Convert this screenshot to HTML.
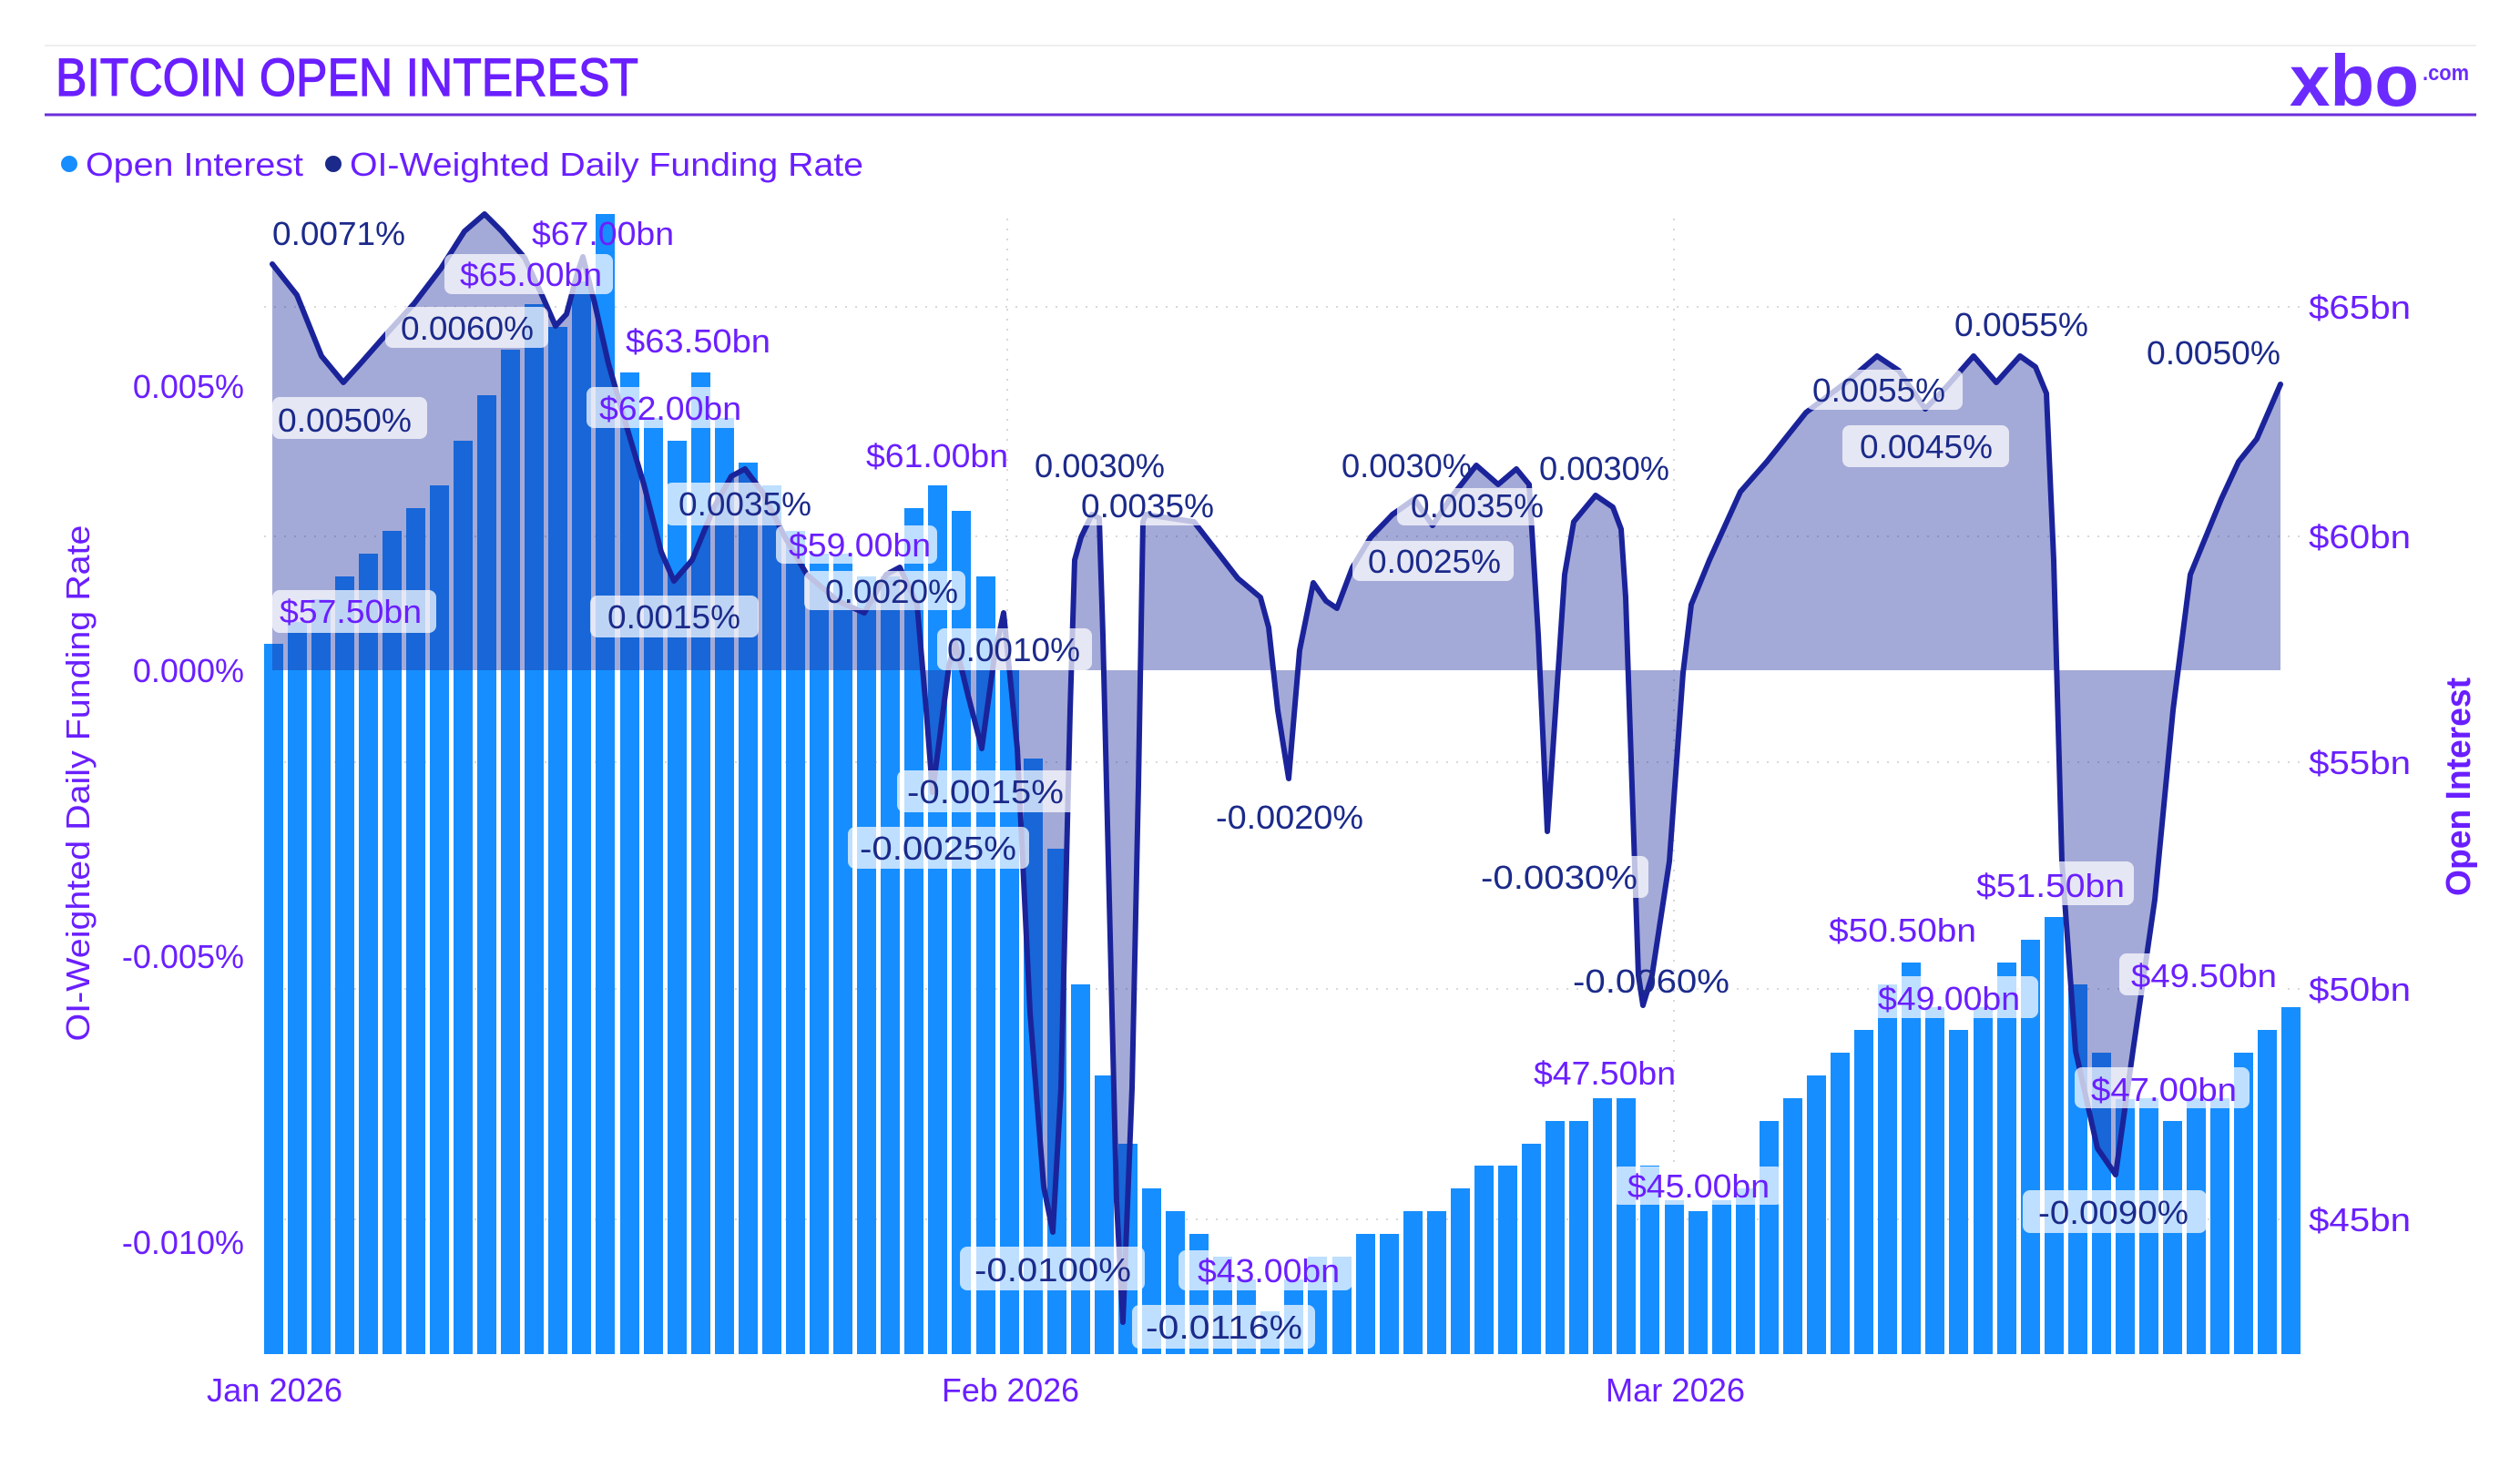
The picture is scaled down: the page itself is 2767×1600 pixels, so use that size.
<!DOCTYPE html>
<html><head><meta charset="utf-8"><style>
html,body{margin:0;padding:0;background:#fff;}
svg{display:block;}
text{font-family:"Liberation Sans","DejaVu Sans",sans-serif;}
</style></head><body>
<svg width="2767" height="1600" viewBox="0 0 2767 1600" xmlns="http://www.w3.org/2000/svg">
<rect x="0" y="0" width="2767" height="1600" fill="#fff"/>
<line x1="49" y1="50" x2="2719" y2="50" stroke="#eeeeee" stroke-width="2"/>
<line x1="49" y1="126" x2="2719" y2="126" stroke="#6a2fd8" stroke-width="3"/>
<text x="61" y="105" font-size="58" fill="#6a1fff" stroke="#6a1fff" stroke-width="1.2" textLength="640" lengthAdjust="spacingAndGlyphs">BITCOIN OPEN INTEREST</text>
<text x="2514" y="116" font-size="80" font-weight="bold" fill="#6b2bff" textLength="142" lengthAdjust="spacingAndGlyphs">xbo</text>
<text x="2660" y="88" font-size="24" font-weight="bold" fill="#6b2bff" textLength="51" lengthAdjust="spacingAndGlyphs">.com</text>
<!-- legend -->
<circle cx="76" cy="180" r="9" fill="#168eff"/>
<text x="94" y="193" font-size="36" fill="#6a1fff" textLength="239" lengthAdjust="spacingAndGlyphs">Open Interest</text>
<circle cx="366" cy="180" r="9" fill="#1b2a8a"/>
<text x="384" y="193" font-size="36" fill="#6a1fff" textLength="564" lengthAdjust="spacingAndGlyphs">OI-Weighted Daily Funding Rate</text>
<!-- gridlines -->
<g stroke="#d8d8d8" stroke-width="2" stroke-dasharray="2,9">
<line x1="290" y1="337" x2="2530" y2="337"/>
<line x1="290" y1="589" x2="2530" y2="589"/>
<line x1="290" y1="837" x2="2530" y2="837"/>
<line x1="290" y1="1086" x2="2530" y2="1086"/>
<line x1="290" y1="1339" x2="2530" y2="1339"/>
<line x1="1106" y1="240" x2="1106" y2="1490"/>
<line x1="1838" y1="240" x2="1838" y2="1490"/>
</g>
<!-- bars -->
<g fill="#168eff">
<rect x="290" y="707" width="21" height="780"/>
<rect x="316" y="683" width="21" height="804"/>
<rect x="342" y="658" width="21" height="829"/>
<rect x="368" y="633" width="21" height="854"/>
<rect x="394" y="608" width="21" height="879"/>
<rect x="420" y="583" width="21" height="904"/>
<rect x="446" y="558" width="21" height="929"/>
<rect x="472" y="533" width="21" height="954"/>
<rect x="498" y="484" width="21" height="1003"/>
<rect x="524" y="434" width="21" height="1053"/>
<rect x="550" y="384" width="21" height="1103"/>
<rect x="576" y="334" width="21" height="1153"/>
<rect x="602" y="359" width="21" height="1128"/>
<rect x="628" y="309" width="21" height="1178"/>
<rect x="654" y="235" width="21" height="1252"/>
<rect x="681" y="409" width="21" height="1078"/>
<rect x="707" y="459" width="21" height="1028"/>
<rect x="733" y="484" width="21" height="1003"/>
<rect x="759" y="409" width="21" height="1078"/>
<rect x="785" y="459" width="21" height="1028"/>
<rect x="811" y="508" width="21" height="979"/>
<rect x="837" y="533" width="21" height="954"/>
<rect x="863" y="583" width="21" height="904"/>
<rect x="889" y="608" width="21" height="879"/>
<rect x="915" y="608" width="21" height="879"/>
<rect x="941" y="633" width="21" height="854"/>
<rect x="967" y="633" width="21" height="854"/>
<rect x="993" y="558" width="21" height="929"/>
<rect x="1019" y="533" width="21" height="954"/>
<rect x="1045" y="561" width="21" height="926"/>
<rect x="1072" y="633" width="21" height="854"/>
<rect x="1098" y="736" width="21" height="751"/>
<rect x="1124" y="833" width="21" height="654"/>
<rect x="1150" y="932" width="21" height="555"/>
<rect x="1176" y="1081" width="21" height="406"/>
<rect x="1202" y="1181" width="21" height="306"/>
<rect x="1228" y="1256" width="21" height="231"/>
<rect x="1254" y="1305" width="21" height="182"/>
<rect x="1280" y="1330" width="21" height="157"/>
<rect x="1306" y="1355" width="21" height="132"/>
<rect x="1332" y="1380" width="21" height="107"/>
<rect x="1358" y="1405" width="21" height="82"/>
<rect x="1384" y="1440" width="21" height="47"/>
<rect x="1410" y="1405" width="21" height="82"/>
<rect x="1436" y="1380" width="21" height="107"/>
<rect x="1463" y="1380" width="21" height="107"/>
<rect x="1489" y="1355" width="21" height="132"/>
<rect x="1515" y="1355" width="21" height="132"/>
<rect x="1541" y="1330" width="21" height="157"/>
<rect x="1567" y="1330" width="21" height="157"/>
<rect x="1593" y="1305" width="21" height="182"/>
<rect x="1619" y="1280" width="21" height="207"/>
<rect x="1645" y="1280" width="21" height="207"/>
<rect x="1671" y="1256" width="21" height="231"/>
<rect x="1697" y="1231" width="21" height="256"/>
<rect x="1723" y="1231" width="21" height="256"/>
<rect x="1749" y="1206" width="21" height="281"/>
<rect x="1775" y="1206" width="21" height="281"/>
<rect x="1801" y="1280" width="21" height="207"/>
<rect x="1828" y="1318" width="21" height="169"/>
<rect x="1854" y="1330" width="21" height="157"/>
<rect x="1880" y="1318" width="21" height="169"/>
<rect x="1906" y="1305" width="21" height="182"/>
<rect x="1932" y="1231" width="21" height="256"/>
<rect x="1958" y="1206" width="21" height="281"/>
<rect x="1984" y="1181" width="21" height="306"/>
<rect x="2010" y="1156" width="21" height="331"/>
<rect x="2036" y="1131" width="21" height="356"/>
<rect x="2062" y="1081" width="21" height="406"/>
<rect x="2088" y="1057" width="21" height="430"/>
<rect x="2114" y="1106" width="21" height="381"/>
<rect x="2140" y="1131" width="21" height="356"/>
<rect x="2167" y="1106" width="21" height="381"/>
<rect x="2193" y="1057" width="21" height="430"/>
<rect x="2219" y="1032" width="21" height="455"/>
<rect x="2245" y="1007" width="21" height="480"/>
<rect x="2271" y="1081" width="21" height="406"/>
<rect x="2297" y="1156" width="21" height="331"/>
<rect x="2323" y="1207" width="21" height="280"/>
<rect x="2349" y="1206" width="21" height="281"/>
<rect x="2375" y="1231" width="21" height="256"/>
<rect x="2401" y="1206" width="21" height="281"/>
<rect x="2427" y="1206" width="21" height="281"/>
<rect x="2453" y="1156" width="21" height="331"/>
<rect x="2479" y="1131" width="21" height="356"/>
<rect x="2505" y="1106" width="21" height="381"/>
</g>
<!-- funding area + line -->
<polygon fill="#1b2a9a" fill-opacity="0.4" points="299,736 299,290 326,324 353,391 377,420 396,399 425,366 455,333 484,295 510,254 532,235 551,254 576,283 595,324 610,358 622,345 634,300 640,282 653,333 668,399 687,465 707,532 726,606 740,638 760,615 784,557 803,523 818,515 837,540 862,590 886,631 920,660 949,673 973,631 988,623 1007,664 1017,780 1024,870 1042,731 1049,706 1062,760 1078,822 1092,720 1102,673 1117,822 1131,1112 1146,1303 1156,1353 1165,1195 1175,780 1180,615 1187,590 1199,565 1207,569 1211,697 1219,1029 1226,1319 1233,1452 1243,1195 1250,863 1255,573 1258,565 1311,573 1359,635 1384,656 1393,689 1403,780 1415,855 1427,714 1442,640 1456,660 1468,668 1485,623 1505,590 1529,565 1553,548 1573,577 1592,548 1621,511 1645,532 1665,515 1679,532 1689,697 1699,913 1708,780 1718,631 1728,573 1752,544 1771,557 1780,581 1785,656 1792,863 1799,1071 1804,1104 1814,1071 1833,946 1848,739 1857,664 1877,615 1911,540 1940,507 1983,453 2032,416 2061,391 2085,407 2114,449 2138,424 2167,391 2192,420 2218,391 2235,403 2247,432 2255,615 2264,946 2279,1154 2303,1261 2323,1290 2342,1154 2366,988 2386,780 2405,631 2439,548 2458,507 2478,482 2504,422 2504,736"/>
<polyline fill="none" stroke="#1b239a" stroke-width="6" stroke-linejoin="round" stroke-linecap="round" points="299,290 326,324 353,391 377,420 396,399 425,366 455,333 484,295 510,254 532,235 551,254 576,283 595,324 610,358 622,345 634,300 640,282 653,333 668,399 687,465 707,532 726,606 740,638 760,615 784,557 803,523 818,515 837,540 862,590 886,631 920,660 949,673 973,631 988,623 1007,664 1017,780 1024,870 1042,731 1049,706 1062,760 1078,822 1092,720 1102,673 1117,822 1131,1112 1146,1303 1156,1353 1165,1195 1175,780 1180,615 1187,590 1199,565 1207,569 1211,697 1219,1029 1226,1319 1233,1452 1243,1195 1250,863 1255,573 1258,565 1311,573 1359,635 1384,656 1393,689 1403,780 1415,855 1427,714 1442,640 1456,660 1468,668 1485,623 1505,590 1529,565 1553,548 1573,577 1592,548 1621,511 1645,532 1665,515 1679,532 1689,697 1699,913 1708,780 1718,631 1728,573 1752,544 1771,557 1780,581 1785,656 1792,863 1799,1071 1804,1104 1814,1071 1833,946 1848,739 1857,664 1877,615 1911,540 1940,507 1983,453 2032,416 2061,391 2085,407 2114,449 2138,424 2167,391 2192,420 2218,391 2235,403 2247,432 2255,615 2264,946 2279,1154 2303,1261 2323,1290 2342,1154 2366,988 2386,780 2405,631 2439,548 2458,507 2478,482 2504,422"/>
<!-- label boxes -->
<g fill="#ffffff" fill-opacity="0.72">
<rect x="488" y="279" width="185" height="44" rx="8"/>
<rect x="423" y="337" width="179" height="45" rx="8"/>
<rect x="644" y="425" width="174" height="45" rx="8"/>
<rect x="299" y="436" width="170" height="46" rx="8"/>
<rect x="730" y="530" width="163" height="47" rx="8"/>
<rect x="852" y="577" width="177" height="42" rx="8"/>
<rect x="883" y="627" width="177" height="43" rx="8"/>
<rect x="299" y="648" width="180" height="47" rx="8"/>
<rect x="648" y="654" width="185" height="46" rx="8"/>
<rect x="1029" y="690" width="170" height="46" rx="8"/>
<rect x="985" y="846" width="198" height="46" rx="8"/>
<rect x="931" y="908" width="199" height="46" rx="8"/>
<rect x="1180" y="536" width="150" height="41" rx="8"/>
<rect x="1534" y="536" width="162" height="41" rx="8"/>
<rect x="1485" y="594" width="177" height="44" rx="8"/>
<rect x="1623" y="940" width="187" height="46" rx="8"/>
<rect x="1054" y="1369" width="203" height="48" rx="8"/>
<rect x="1294" y="1373" width="191" height="44" rx="8"/>
<rect x="1243" y="1433" width="201" height="48" rx="8"/>
<rect x="1770" y="1281" width="188" height="42" rx="8"/>
<rect x="1983" y="406" width="172" height="44" rx="8"/>
<rect x="2023" y="467" width="183" height="46" rx="8"/>
<rect x="2162" y="946" width="181" height="48" rx="8"/>
<rect x="2054" y="1072" width="184" height="46" rx="8"/>
<rect x="2327" y="1047" width="177" height="46" rx="8"/>
<rect x="2278" y="1172" width="192" height="45" rx="8"/>
<rect x="2221" y="1307" width="202" height="47" rx="8"/>
</g>
<!-- data labels -->
<g font-size="36">
<text x="299" y="269" fill="#1b2a8a" textLength="146" lengthAdjust="spacingAndGlyphs">0.0071%</text>
<text x="584" y="269" fill="#6a1fff" textLength="156" lengthAdjust="spacingAndGlyphs">$67.00bn</text>
<text x="505" y="314" fill="#6a1fff" textLength="156" lengthAdjust="spacingAndGlyphs">$65.00bn</text>
<text x="440" y="373" fill="#1b2a8a" textLength="146" lengthAdjust="spacingAndGlyphs">0.0060%</text>
<text x="687" y="387" fill="#6a1fff" textLength="159" lengthAdjust="spacingAndGlyphs">$63.50bn</text>
<text x="658" y="461" fill="#6a1fff" textLength="156" lengthAdjust="spacingAndGlyphs">$62.00bn</text>
<text x="305" y="474" fill="#1b2a8a" textLength="147" lengthAdjust="spacingAndGlyphs">0.0050%</text>
<text x="745" y="566" fill="#1b2a8a" textLength="146" lengthAdjust="spacingAndGlyphs">0.0035%</text>
<text x="866" y="611" fill="#6a1fff" textLength="156" lengthAdjust="spacingAndGlyphs">$59.00bn</text>
<text x="906" y="662" fill="#1b2a8a" textLength="146" lengthAdjust="spacingAndGlyphs">0.0020%</text>
<text x="307" y="684" fill="#6a1fff" textLength="156" lengthAdjust="spacingAndGlyphs">$57.50bn</text>
<text x="667" y="690" fill="#1b2a8a" textLength="146" lengthAdjust="spacingAndGlyphs">0.0015%</text>
<text x="951" y="513" fill="#6a1fff" textLength="156" lengthAdjust="spacingAndGlyphs">$61.00bn</text>
<text x="1040" y="726" fill="#1b2a8a" textLength="146" lengthAdjust="spacingAndGlyphs">0.0010%</text>
<text x="996" y="882" fill="#1b2a8a" textLength="172" lengthAdjust="spacingAndGlyphs">-0.0015%</text>
<text x="944" y="944" fill="#1b2a8a" textLength="172" lengthAdjust="spacingAndGlyphs">-0.0025%</text>
<text x="1136" y="524" fill="#1b2a8a" textLength="143" lengthAdjust="spacingAndGlyphs">0.0030%</text>
<text x="1187" y="568" fill="#1b2a8a" textLength="146" lengthAdjust="spacingAndGlyphs">0.0035%</text>
<text x="1335" y="910" fill="#1b2a8a" textLength="162" lengthAdjust="spacingAndGlyphs">-0.0020%</text>
<text x="1473" y="524" fill="#1b2a8a" textLength="143" lengthAdjust="spacingAndGlyphs">0.0030%</text>
<text x="1549" y="568" fill="#1b2a8a" textLength="146" lengthAdjust="spacingAndGlyphs">0.0035%</text>
<text x="1502" y="629" fill="#1b2a8a" textLength="146" lengthAdjust="spacingAndGlyphs">0.0025%</text>
<text x="1690" y="527" fill="#1b2a8a" textLength="143" lengthAdjust="spacingAndGlyphs">0.0030%</text>
<text x="1626" y="976" fill="#1b2a8a" textLength="172" lengthAdjust="spacingAndGlyphs">-0.0030%</text>
<text x="1070" y="1407" fill="#1b2a8a" textLength="172" lengthAdjust="spacingAndGlyphs">-0.0100%</text>
<text x="1315" y="1408" fill="#6a1fff" textLength="156" lengthAdjust="spacingAndGlyphs">$43.00bn</text>
<text x="1258" y="1470" fill="#1b2a8a" textLength="172" lengthAdjust="spacingAndGlyphs">-0.0116%</text>
<text x="1684" y="1191" fill="#6a1fff" textLength="156" lengthAdjust="spacingAndGlyphs">$47.50bn</text>
<text x="1727" y="1090" fill="#1b2a8a" textLength="172" lengthAdjust="spacingAndGlyphs">-0.0060%</text>
<text x="1787" y="1315" fill="#6a1fff" textLength="156" lengthAdjust="spacingAndGlyphs">$45.00bn</text>
<text x="1990" y="441" fill="#1b2a8a" textLength="146" lengthAdjust="spacingAndGlyphs">0.0055%</text>
<text x="2042" y="503" fill="#1b2a8a" textLength="146" lengthAdjust="spacingAndGlyphs">0.0045%</text>
<text x="2146" y="369" fill="#1b2a8a" textLength="147" lengthAdjust="spacingAndGlyphs">0.0055%</text>
<text x="2357" y="400" fill="#1b2a8a" textLength="147" lengthAdjust="spacingAndGlyphs">0.0050%</text>
<text x="2170" y="985" fill="#6a1fff" textLength="163" lengthAdjust="spacingAndGlyphs">$51.50bn</text>
<text x="2008" y="1034" fill="#6a1fff" textLength="162" lengthAdjust="spacingAndGlyphs">$50.50bn</text>
<text x="2062" y="1109" fill="#6a1fff" textLength="156" lengthAdjust="spacingAndGlyphs">$49.00bn</text>
<text x="2340" y="1084" fill="#6a1fff" textLength="160" lengthAdjust="spacingAndGlyphs">$49.50bn</text>
<text x="2296" y="1209" fill="#6a1fff" textLength="160" lengthAdjust="spacingAndGlyphs">$47.00bn</text>
<text x="2238" y="1344" fill="#1b2a8a" textLength="165" lengthAdjust="spacingAndGlyphs">-0.0090%</text>
</g>
<!-- left axis -->
<g font-size="36" fill="#6a1fff" text-anchor="end">
<text x="268" y="437">0.005%</text>
<text x="268" y="749">0.000%</text>
<text x="268" y="1063">-0.005%</text>
<text x="268" y="1377">-0.010%</text>
</g>
<!-- right axis -->
<g font-size="36" fill="#6a1fff">
<text x="2535" y="350" textLength="112" lengthAdjust="spacingAndGlyphs">$65bn</text>
<text x="2535" y="602" textLength="112" lengthAdjust="spacingAndGlyphs">$60bn</text>
<text x="2535" y="850" textLength="112" lengthAdjust="spacingAndGlyphs">$55bn</text>
<text x="2535" y="1099" textLength="112" lengthAdjust="spacingAndGlyphs">$50bn</text>
<text x="2535" y="1352" textLength="112" lengthAdjust="spacingAndGlyphs">$45bn</text>
</g>
<!-- x axis -->
<g font-size="36" fill="#6a1fff">
<text x="227" y="1539" textLength="149" lengthAdjust="spacingAndGlyphs">Jan 2026</text>
<text x="1034" y="1539" textLength="151" lengthAdjust="spacingAndGlyphs">Feb 2026</text>
<text x="1763" y="1539" textLength="153" lengthAdjust="spacingAndGlyphs">Mar 2026</text>
</g>
<!-- axis titles -->
<text transform="translate(98,860) rotate(-90)" text-anchor="middle" font-size="36" fill="#6a1fff" textLength="567" lengthAdjust="spacingAndGlyphs">OI-Weighted Daily Funding Rate</text>
<text transform="translate(2712,864) rotate(-90)" text-anchor="middle" font-size="38" font-weight="bold" fill="#6a1fff" textLength="240" lengthAdjust="spacingAndGlyphs">Open Interest</text>
</svg>
</body></html>
